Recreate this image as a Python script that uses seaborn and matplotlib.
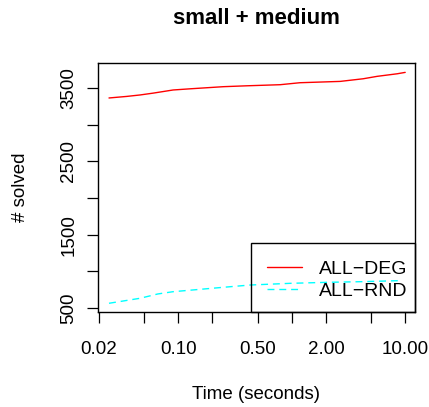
import matplotlib
matplotlib.use("Agg")
import matplotlib.pyplot as plt
import numpy as np
import pandas as pd
import seaborn as sns
from matplotlib.patches import Rectangle
from matplotlib.ticker import FixedLocator, FixedFormatter, NullLocator

# Cumulative number of instances solved within a given time
deg_time = [0.0245, 0.035, 0.046, 0.06, 0.09, 0.13, 0.25, 0.4, 0.79, 1.18, 2.67, 4.26, 5.66, 8.5, 10.0]
deg_solved = [3364, 3385, 3405, 3430, 3473, 3490, 3518, 3530, 3545, 3572, 3590, 3626, 3659, 3694, 3713]

rnd_time = [0.0245, 0.046, 0.066, 0.09, 0.25, 0.43, 0.97, 2.1, 4.25, 8.6]
rnd_solved = [564, 632, 691, 722, 782, 813, 836, 850, 859, 872]

series_names = ["ALL\u2212DEG", "ALL\u2212RND"]
series_colors = ["#FF0000", "#00FFFF"]

x_ticks = [0.02, 0.05, 0.1, 0.2, 0.5, 1, 2, 5, 10]
x_tick_labels = ["0.02", "", "0.10", "", "0.50", "", "2.00", "", "10.00"]
y_ticks = [500, 1000, 1500, 2000, 2500, 3000, 3500]
y_tick_labels = ["500", "", "1500", "", "2500", "", "3500"]

df = pd.concat([
    pd.DataFrame({"time": deg_time, "solved": deg_solved, "config": series_names[0]}),
    pd.DataFrame({"time": rnd_time, "solved": rnd_solved, "config": series_names[1]}),
], ignore_index=True)

sns.set_style("ticks")
plt.rcParams["font.family"] = ["Liberation Sans", "DejaVu Sans"]
plt.rcParams["axes.unicode_minus"] = True
plt.rcParams["text.color"] = "black"

W, H = 429, 407
fig = plt.figure(figsize=(W / 100, H / 100), dpi=100)
L, R, T, B = 98, 415, 63, 312
ax = fig.add_axes([L / W, 1 - B / H, (R - L) / W, (B - T) / H])

sns.lineplot(
    data=df, x="time", y="solved", hue="config", style="config",
    hue_order=series_names, style_order=series_names,
    palette=dict(zip(series_names, series_colors)),
    dashes={series_names[0]: "", series_names[1]: (5.0, 3.5)},
    estimator=None, sort=True, linewidth=1.0, legend=False, ax=ax,
)

ax.set_xscale("log")
ax.set_xlim(0.0196, 12.2)
ax.set_ylim(445, 3841)
ax.xaxis.set_major_locator(FixedLocator(x_ticks))
ax.xaxis.set_major_formatter(FixedFormatter(x_tick_labels))
ax.xaxis.set_minor_locator(NullLocator())
ax.yaxis.set_major_locator(FixedLocator(y_ticks))
ax.yaxis.set_major_formatter(FixedFormatter(y_tick_labels))

fs = 13.5
ax.tick_params(axis="both", direction="out", length=8, width=0.9, color="black",
               labelsize=fs, labelcolor="black")
ax.tick_params(axis="x", pad=13)
ax.tick_params(axis="y", pad=7, labelrotation=90)
for lab in ax.get_yticklabels():
    lab.set_va("center")
for s in ax.spines.values():
    s.set_visible(True)
    s.set_color("black")
    s.set_linewidth(1.0)
ax.set_xlabel("")
ax.set_ylabel("")

# Legend box in the lower right corner, flush with the plot frame
box_l, box_t = 251, 243
fig.patches.append(Rectangle((box_l / W, 1 - B / H), (R - box_l) / W, (B - box_t) / H,
                             transform=fig.transFigure, fill=False,
                             edgecolor="black", linewidth=1.0, zorder=5))
lines = ax.get_lines()[:2]
leg = ax.legend(lines, series_names, loc="upper left",
                bbox_to_anchor=(266.5 / W, 1 - 260.5 / H),
                bbox_transform=fig.transFigure,
                borderaxespad=0, fontsize=14, frameon=False,
                handlelength=1.8, handletextpad=0.9, borderpad=0,
                labelspacing=0.2)
for t in leg.get_texts():
    t.set_color("black")

# Titles
cx = (L + R) / 2 / W
fig.text(cx, 1 - 24 / H, "small + medium", ha="center", va="baseline",
         fontsize=16, fontweight="bold")
fig.text(cx, 1 - 399 / H, "Time (seconds)", ha="center", va="baseline", fontsize=fs)
fig.text(25 / W, 1 - 187 / H, "# solved", ha="center", va="baseline",
         rotation=90, rotation_mode="anchor", fontsize=fs)

fig.savefig("out.png", dpi=100, facecolor="white")
